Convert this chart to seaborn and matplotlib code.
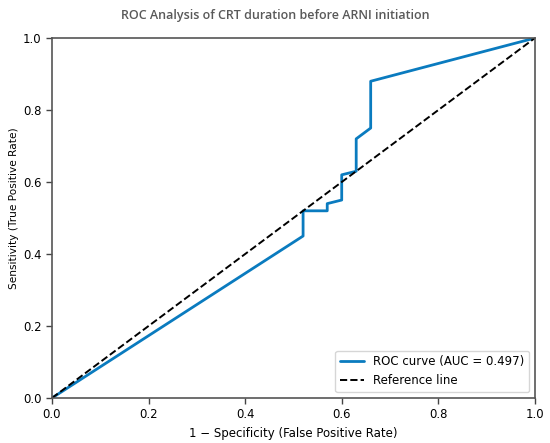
import pandas as pd
import matplotlib
matplotlib.use("Agg")
import matplotlib.pyplot as plt
import seaborn as sns

# ROC curve points
fpr = [0.0, 0.52, 0.52, 0.57, 0.57, 0.60, 0.60, 0.63, 0.63, 0.66, 0.66, 1.0]
tpr = [0.0, 0.45, 0.52, 0.52, 0.54, 0.55, 0.62, 0.63, 0.72, 0.75, 0.88, 1.0]
ref_x = [0.0, 1.0]
ref_y = [0.0, 1.0]
auc_value = 0.497

sns.set_style("white")
plt.rcParams['font.family'] = ['DejaVu Sans']
plt.rcParams['text.color'] = 'black'
plt.rcParams['axes.labelcolor'] = 'black'
plt.rcParams['xtick.color'] = 'black'
plt.rcParams['ytick.color'] = 'black'

df_roc = pd.DataFrame({"fpr": fpr, "tpr": tpr})
df_ref = pd.DataFrame({"x": ref_x, "y": ref_y})

fig = plt.figure(figsize=(5.5, 4.43), dpi=100)
ax = fig.add_axes([0.0945, 0.1016, 0.878, 0.8125])

sns.lineplot(data=df_roc, x="fpr", y="tpr", sort=False, estimator=None, ax=ax,
             color="#0a7bbf", linewidth=2, label=f"ROC curve (AUC = {auc_value:.3f})")
sns.lineplot(data=df_ref, x="x", y="y", sort=False, estimator=None, ax=ax,
             color="black", linewidth=1.4, linestyle="--", label="Reference line")

ax.set_xlim(0, 1)
ax.set_ylim(0, 1)
ax.set_xticks([0.0, 0.2, 0.4, 0.6, 0.8, 1.0])
ax.set_yticks([0.0, 0.2, 0.4, 0.6, 0.8, 1.0])
ax.tick_params(axis="both", labelsize=8.4, length=4, width=1, color="#444444",
               direction="out", bottom=True, left=True)
for sp in ax.spines.values():
    sp.set_color("#555555")
    sp.set_linewidth(1.2)

ax.set_xlabel("1 \u2212 Specificity (False Positive Rate)", fontsize=8.5)
ax.set_ylabel("Sensitivity (True Positive Rate)", fontsize=7.6)
ax.yaxis.set_label_coords(-0.068, 0.528)
fig.text(0.5, 0.966, "ROC Analysis of CRT duration before ARNI initiation",
         ha="center", va="center", fontsize=9, color="#595959",
         fontweight="semibold", family=["Open Sans", "DejaVu Sans"])

ax.legend(loc="lower right", fontsize=8.5, frameon=True)

fig.savefig("out.png", dpi=100)
